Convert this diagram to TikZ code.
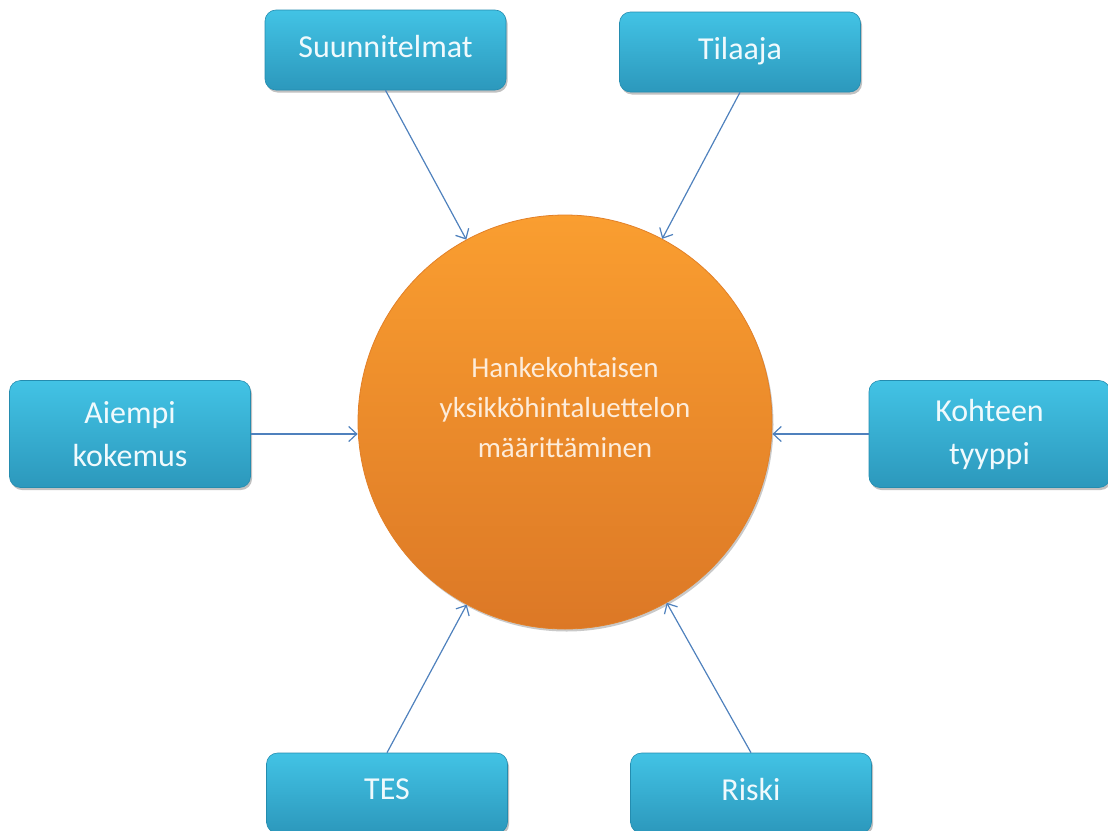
\documentclass[tikz,border=0pt]{standalone}
\usepackage{fontspec}
\setmainfont{Carlito}
\usetikzlibrary{arrows.meta,shadows}
\definecolor{boxtop}{RGB}{66,195,229}
\definecolor{boxbot}{RGB}{44,152,188}
\definecolor{boxedge}{RGB}{36,140,175}
\definecolor{boxtext}{RGB}{240,250,253}
\definecolor{circtop}{RGB}{250,158,48}
\definecolor{circmid}{RGB}{246,148,44}
\definecolor{circbot}{RGB}{220,120,38}
\definecolor{circedge}{RGB}{226,128,40}
\definecolor{circtext}{RGB}{253,236,218}
\definecolor{arrcol}{RGB}{79,129,189}
\tikzset{
  infobox/.style={rectangle, rounded corners=11pt, minimum width=241pt, inner sep=0pt,
    top color=boxtop, bottom color=boxbot, draw=boxedge, line width=0.6pt,
    drop shadow={shadow xshift=1.5pt, shadow yshift=-2.5pt, opacity=0.35, fill=black!70},
    text=boxtext, font=\fontsize{32}{43}\selectfont, align=center},
  smallbox/.style={infobox, minimum height=80pt, text depth=8pt},
  tallbox/.style={infobox, minimum height=107pt},
  hub/.style={circle, minimum size=414pt, inner sep=0pt,
    top color=circtop, middle color=circmid, bottom color=circbot, draw=circedge, line width=0.8pt,
    drop shadow={shadow xshift=1.5pt, shadow yshift=-2.5pt, opacity=0.3, fill=black!70}},
  hubtext/.style={text=circtext, font=\fontsize{29}{40}\selectfont, align=center, inner sep=0pt},
  arr/.style={draw=arrcol, line width=1.2pt, -{Straight Barb[length=8pt,width=15pt,line width=1.2pt]}}
}
\begin{document}
\begin{tikzpicture}[x=1pt,y=-1pt]
\useasboundingbox (0,0) rectangle (1108,830);
\node[hub] (c) at (565,422) {};
\node[hubtext] (ct) at (565,408) {Hankekohtaisen\\yksikköhintaluettelon\\määrittäminen};
\node[smallbox] (sun) at (385.5,50) {Suunnitelmat};
\node[smallbox] (til) at (740,52) {Tilaaja};
\node[tallbox] (aie) at (130,434) {Aiempi\\kokemus};
\node[tallbox] (koh) at (989.5,434) {Kohteen\\tyyppi};
\node[smallbox] (tes) at (387,793) {TES};
\node[smallbox] (ris) at (751,793) {Riski};
\draw[arr] (sun.south) -- (c);
\draw[arr] (til.south) -- (c);
\draw[arr] (aie.east) -- (aie.east -| c.west);
\draw[arr] (koh.west) -- (koh.west -| c.east);
\draw[arr] (tes.north) -- (c);
\draw[arr] (ris.north) -- (c);
\end{tikzpicture}
\end{document}
